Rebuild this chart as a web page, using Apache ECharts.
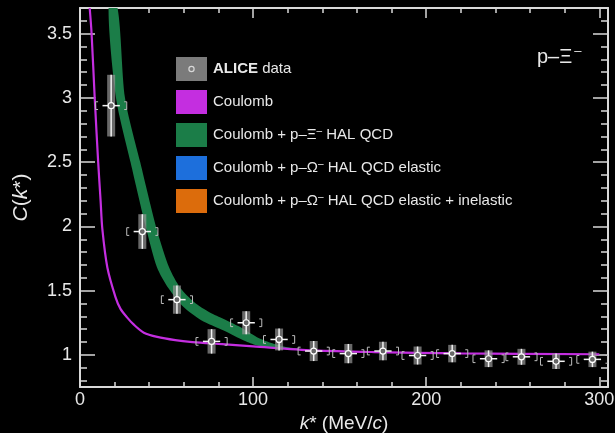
<!DOCTYPE html>
<html>
<head>
<meta charset="utf-8">
<script src="https://cdn.jsdelivr.net/npm/echarts@6/dist/echarts.min.js"></script>
<style>
  html, body { margin: 0; padding: 0; background: #000; }
  #chart { width: 615px; height: 433px; }
</style>
</head>
<body>
<div id="chart"></div>
<script>
// ALICE p–Ξ⁻ correlation function: measured points
const kData   = [18, 36, 56, 76, 96, 115, 135, 155, 175, 195, 215, 236, 255, 275, 296];
const cData   = [2.94, 1.96, 1.43, 1.105, 1.25, 1.12, 1.03, 1.01, 1.03, 0.995, 1.01, 0.97, 0.985, 0.95, 0.965];
const statErr = [0.24, 0.135, 0.11, 0.095, 0.09, 0.085, 0.078, 0.075, 0.072, 0.07, 0.068, 0.065, 0.062, 0.06, 0.06];
const systErr = [0.03, 0.03, 0.03, 0.03, 0.03, 0.03, 0.03, 0.03, 0.03, 0.03, 0.03, 0.03, 0.03, 0.03, 0.03];
const kErr    = [5, 5, 5, 5, 5, 5, 5, 5, 5, 5, 5, 5, 5, 5, 5];

// Coulomb-only prediction
const coulombK = [5.6, 6.7, 8.5, 10.5, 11.9, 12.9, 15.8, 20.5, 23.4, 27.3, 31.1, 36.9, 44.6, 55, 65, 80, 100, 135, 170, 220, 300];
const coulombC = [3.7, 3.5, 3.0, 2.5, 2.2, 1.98, 1.68, 1.45, 1.358, 1.29, 1.235, 1.173, 1.14, 1.115, 1.10, 1.085, 1.066, 1.035, 1.022, 1.012, 1.005];

// Coulomb + p–Ξ⁻ HAL QCD band (upper and lower edges)
const halUpperK = [21.7, 26, 34.8, 44.5, 51.5, 58, 66, 75, 83, 92, 102, 110, 120, 140, 200, 300];
const halUpperC = [3.7, 3.0, 2.5, 1.97, 1.68, 1.52, 1.41, 1.33, 1.28, 1.22, 1.14, 1.095, 1.06, 1.036, 1.016, 1.006];
const halLowerK = [16.5, 20.8, 29.2, 38.5, 44.5, 51, 60, 70, 83, 95, 102, 112, 140, 200, 300];
const halLowerC = [3.7, 3.0, 2.5, 1.97, 1.68, 1.52, 1.37, 1.27, 1.19, 1.11, 1.075, 1.052, 1.03, 1.013, 1.004];

// Axis ticks
const xMajorTicks = [0, 100, 200, 300];
const xMinorTicks = [20, 40, 60, 80, 120, 140, 160, 180, 220, 240, 260, 280];
const yMajorTicks = [1, 1.5, 2, 2.5, 3, 3.5];
const yMinorTicks = [0.8, 0.9, 1.1, 1.2, 1.3, 1.4, 1.6, 1.7, 1.8, 1.9, 2.1, 2.2, 2.3, 2.4, 2.6, 2.7, 2.8, 2.9, 3.1, 3.2, 3.3, 3.4, 3.6];

const FONT = 'Liberation Sans, Arial, Helvetica, sans-serif';
const AX = '#d9d9d9';
const TXT = '#e8e8e8';
const PURPLE = '#c42ee0';
const GREEN = '#1b7d48';
const BLUE = '#1d6fdc';
const ORANGE = '#dc6c0c';

const X_MIN = 0, X_MAX = 305, Y_MIN = 0.75, Y_MAX = 3.7;

function xAx(pos, ticks, len, extra) {
  return Object.assign({
    type: 'value', min: X_MIN, max: X_MAX, position: pos,
    axisLine: { show: false, onZero: false },
    axisTick: { show: true, inside: true, length: len, customValues: ticks, lineStyle: { color: AX, width: 1.5 } },
    axisLabel: { show: false },
    splitLine: { show: false }
  }, extra || {});
}
function yAx(pos, ticks, len, extra) {
  return Object.assign({
    type: 'value', min: Y_MIN, max: Y_MAX, position: pos,
    axisLine: { show: false, onZero: false },
    axisTick: { show: true, inside: true, length: len, customValues: ticks, lineStyle: { color: AX, width: 1.5 } },
    axisLabel: { show: false },
    splitLine: { show: false }
  }, extra || {});
}

const aliceIcon = 'image://data:image/svg+xml;utf8,' + encodeURIComponent(
  '<svg xmlns="http://www.w3.org/2000/svg" width="31" height="24">' +
  '<rect width="31" height="24" fill="#7b7b7b"/>' +
  '<circle cx="15.5" cy="12" r="2.6" fill="none" stroke="#d8d8d8" stroke-width="1.2"/></svg>');

const chart = echarts.init(document.getElementById('chart'), null, { renderer: 'canvas' });

chart.setOption({
  backgroundColor: '#000',
  animation: false,
  grid: { left: 80, right: 7, top: 8, bottom: 46, containLabel: false, outerBoundsMode: 'none' },
  xAxis: [
    xAx('bottom', xMajorTicks, 10, {
      axisLine: { show: true, onZero: false, lineStyle: { color: AX, width: 2 } },
      axisLabel: { show: true, customValues: xMajorTicks, color: TXT, fontSize: 18, fontFamily: FONT, margin: 4 },
      name: '{i|k}* (MeV/{i|c})',
      nameLocation: 'middle', nameGap: 21,
      nameTextStyle: { color: TXT, fontSize: 19, fontFamily: FONT,
        rich: { i: { fontStyle: 'italic', fontSize: 19, fontFamily: FONT, color: TXT } } }
    }),
    xAx('bottom', xMinorTicks, 5),
    xAx('top', xMajorTicks, 10, { axisLine: { show: true, onZero: false, lineStyle: { color: AX, width: 2 } } }),
    xAx('top', xMinorTicks, 5)
  ],
  yAxis: [
    yAx('left', yMajorTicks, 15, {
      axisLine: { show: true, onZero: false, lineStyle: { color: AX, width: 2 } },
      axisLabel: { show: true, customValues: yMajorTicks, color: TXT, fontSize: 18, fontFamily: FONT, margin: 8 },
      name: '{i|C}({i|k}*)',
      nameLocation: 'middle', nameGap: 48,
      nameTextStyle: { color: TXT, fontSize: 21, fontFamily: FONT,
        rich: { i: { fontStyle: 'italic', fontSize: 21, fontFamily: FONT, color: TXT } } }
    }),
    yAx('left', yMinorTicks, 7),
    yAx('right', yMajorTicks, 15, { axisLine: { show: true, onZero: false, lineStyle: { color: AX, width: 2 } } }),
    yAx('right', yMinorTicks, 7)
  ],
  legend: {
    orient: 'vertical', left: 176, top: 57, padding: 0,
    itemWidth: 31, itemHeight: 24, itemGap: 9,
    selectedMode: false,
    textStyle: {
      color: TXT, fontSize: 15, fontFamily: FONT, padding: [0, 0, 0, 1],
      rich: {
        b: { fontWeight: 'bold', fontSize: 15, fontFamily: FONT, color: TXT },
        s: { fontSize: 10, fontFamily: FONT, color: TXT, padding: [0, 0, 8, 0] }
      }
    },
    formatter: function (name) {
      if (name === 'ALICE data') return '{b|ALICE} data';
      return name.replace('⁻', '{s|–}');
    },
    data: [
      { name: 'ALICE data', icon: aliceIcon },
      { name: 'Coulomb', icon: 'rect' },
      { name: 'Coulomb + p–Ξ⁻ HAL QCD', icon: 'rect' },
      { name: 'Coulomb + p–Ω⁻ HAL QCD elastic', icon: 'rect' },
      { name: 'Coulomb + p–Ω⁻ HAL QCD elastic + inelastic', icon: 'rect' }
    ]
  },
  graphic: [{
    type: 'text', left: 537, top: 45, z: 10,
    style: {
      text: 'p–Ξ{s|–}', fill: TXT, fontSize: 20, fontFamily: FONT,
      rich: { s: { fontSize: 13, fontFamily: FONT, fill: TXT, padding: [0, 0, 12, 2] } }
    }
  }],
  series: [
    {
      name: 'Coulomb + p–Ξ⁻ HAL QCD',
      type: 'custom', clip: true, z: 2,
      itemStyle: { color: GREEN },
      data: [[halUpperK[0], halUpperC[0]]],
      encode: { x: 0, y: 1 },
      renderItem: function (params, api) {
        const pts = [];
        for (let i = 0; i < halUpperK.length; i++) pts.push(api.coord([halUpperK[i], halUpperC[i]]));
        for (let i = halLowerK.length - 1; i >= 0; i--) pts.push(api.coord([halLowerK[i], halLowerC[i]]));
        return {
          type: 'polygon',
          shape: { points: echarts.graphic.clipPointsByRect(pts, params.coordSys), smooth: 0.25 },
          style: { fill: GREEN, stroke: null }
        };
      }
    },
    {
      name: 'Coulomb + p–Ω⁻ HAL QCD elastic',
      type: 'line', data: [], itemStyle: { color: BLUE }, lineStyle: { color: BLUE }
    },
    {
      name: 'Coulomb + p–Ω⁻ HAL QCD elastic + inelastic',
      type: 'line', data: [], itemStyle: { color: ORANGE }, lineStyle: { color: ORANGE }
    },
    {
      name: 'Coulomb',
      type: 'line', z: 3, showSymbol: false, smooth: 0.3, clip: true,
      itemStyle: { color: PURPLE },
      lineStyle: { color: PURPLE, width: 2.2 },
      data: coulombK.map((k, i) => [k, coulombC[i]])
    },
    {
      name: 'ALICE data',
      type: 'custom', z: 5, clip: true,
      itemStyle: { color: '#7b7b7b' },
      encode: { x: 0, y: 1 },
      data: kData.map((k, i) => [k, cData[i], statErr[i], systErr[i], kErr[i]]),
      renderItem: function (params, api) {
        const k = api.value(0), c = api.value(1), se = api.value(2), sy = api.value(3), ke = api.value(4);
        const p = api.coord([k, c]);
        const top = api.coord([k, c + se]);
        const bot = api.coord([k, c - se]);
        const l = api.coord([k - ke, c]);
        const r = api.coord([k + ke, c]);
        const bw = 9; // half width of the systematic bracket, MeV
        const bl = api.coord([k - bw, c + sy]);
        const br = api.coord([k + bw, c - sy]);
        const arm = 2.5;
        const bStyle = { stroke: '#bdbdbd', lineWidth: 1, fill: null };
        return {
          type: 'group',
          children: [
            { type: 'rect', shape: { x: p[0] - 4, y: top[1], width: 8, height: bot[1] - top[1] },
              style: { fill: 'rgba(150,150,150,0.7)' } },
            { type: 'polyline', shape: { points: [[bl[0] + arm, bl[1]], [bl[0], bl[1]], [bl[0], br[1]], [bl[0] + arm, br[1]]] }, style: bStyle },
            { type: 'polyline', shape: { points: [[br[0] - arm, bl[1]], [br[0], bl[1]], [br[0], br[1]], [br[0] - arm, br[1]]] }, style: bStyle },
            { type: 'line', shape: { x1: p[0], y1: top[1], x2: p[0], y2: bot[1] },
              style: { stroke: '#f2f2f2', lineWidth: 1.5 } },
            { type: 'line', shape: { x1: l[0], y1: p[1], x2: r[0], y2: p[1] },
              style: { stroke: '#f2f2f2', lineWidth: 1.5 } },
            { type: 'circle', shape: { cx: p[0], cy: p[1], r: 3 },
              style: { stroke: '#ffffff', lineWidth: 1.2, fill: 'rgba(90,90,90,0.9)' } }
          ]
        };
      }
    }
  ]
});
</script>
</body>
</html>
